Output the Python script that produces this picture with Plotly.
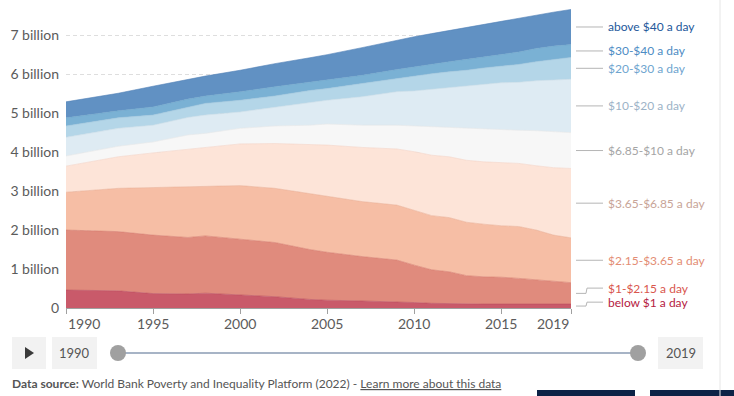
import plotly.graph_objects as go

# ---------------- data (billions of people) ----------------
years = [1990, 1993, 1995, 1997, 1998, 2000, 2002, 2004, 2005, 2007, 2009,
         2010, 2011, 2012, 2013, 2014, 2015, 2016, 2017, 2018, 2019]

below_1   = [0.46, 0.44, 0.37, 0.36, 0.38, 0.33, 0.29, 0.22, 0.20, 0.18, 0.16,
             0.14, 0.12, 0.11, 0.10, 0.10, 0.10, 0.10, 0.10, 0.10, 0.10]
d1_215    = [1.54, 1.52, 1.50, 1.45, 1.47, 1.44, 1.39, 1.28, 1.23, 1.14, 1.07,
             0.96, 0.86, 0.82, 0.73, 0.70, 0.69, 0.66, 0.62, 0.58, 0.55]
d215_365  = [0.97, 1.11, 1.22, 1.30, 1.28, 1.37, 1.39, 1.43, 1.44, 1.41, 1.41,
             1.41, 1.39, 1.39, 1.37, 1.35, 1.32, 1.33, 1.28, 1.19, 1.15]
d365_685  = [0.67, 0.81, 0.89, 0.96, 0.99, 1.07, 1.15, 1.27, 1.31, 1.39, 1.44,
             1.50, 1.55, 1.56, 1.59, 1.60, 1.62, 1.62, 1.65, 1.73, 1.78]
d685_10   = [0.26, 0.27, 0.28, 0.37, 0.36, 0.40, 0.45, 0.49, 0.54, 0.57, 0.61,
             0.66, 0.73, 0.75, 0.82, 0.84, 0.85, 0.85, 0.90, 0.92, 0.92]
d10_20    = [0.48, 0.46, 0.43, 0.45, 0.47, 0.42, 0.48, 0.59, 0.61, 0.73, 0.86,
             0.90, 0.96, 1.03, 1.08, 1.15, 1.20, 1.23, 1.28, 1.33, 1.37]
d20_30    = [0.29, 0.27, 0.26, 0.27, 0.30, 0.30, 0.29, 0.30, 0.30, 0.34, 0.34,
             0.38, 0.40, 0.40, 0.41, 0.42, 0.43, 0.46, 0.49, 0.53, 0.56]
d30_40    = [0.21, 0.18, 0.21, 0.20, 0.19, 0.22, 0.24, 0.21, 0.22, 0.21, 0.23,
             0.24, 0.25, 0.26, 0.28, 0.28, 0.30, 0.32, 0.34, 0.34, 0.33]
above_40  = [0.41, 0.45, 0.53, 0.50, 0.51, 0.55, 0.59, 0.63, 0.65, 0.71, 0.75,
             0.77, 0.78, 0.80, 0.82, 0.84, 0.85, 0.87, 0.86, 0.87, 0.90]

series_names = ["below $1 a day", "$1-$2.15 a day", "$2.15-$3.65 a day",
                "$3.65-$6.85 a day", "$6.85-$10 a day", "$10-$20 a day",
                "$20-$30 a day", "$30-$40 a day", "above $40 a day"]
series_values = [below_1, d1_215, d215_365, d365_685, d685_10,
                 d10_20, d20_30, d30_40, above_40]

fill_colors = ["#c95a6a", "#e08b7d", "#f6bea5", "#fde4d8", "#f7f7f7",
               "#deebf3", "#b4d6e8", "#7ab1d4", "#6191c3"]
edge_colors = ["#b94a5c", "#d57b6d", "#eaae95", "#f4d2c4", "#e8e8e8",
               "#cddde8", "#a3c8de", "#6aa3c9", "#5282b7"]
label_colors = ["#b5203f", "#d9564d", "#e38d74", "#c8a497", "#a5a5a5",
                "#9db3c7", "#6fa5cf", "#4d8cc4", "#23589b"]

y_tick_vals = [0, 1, 2, 3, 4, 5, 6, 7]
y_tick_text = ["0", "1 billion", "2 billion", "3 billion", "4 billion",
               "5 billion", "6 billion", "7 billion"]
x_tick_vals = [1990, 1995, 2000, 2005, 2010, 2015, 2019]

source_text = ("<b>Data source:</b> World Bank Poverty and Inequality Platform (2022) - "
               "<u>Learn more about this data</u>")

# ---------------- layout geometry ----------------
W_PX, H_PX = 734, 396
L, R, T, B = 66, 571, 4, 308
Y_MAX = 7.8
FONT = "Lato, 'Noto Sans', sans-serif"


def px(x):
    return (x - L) / (R - L)


def py(y):
    return (B - y) / (B - T)


fig = go.Figure()
for name, vals, fc, ec in zip(series_names, series_values, fill_colors, edge_colors):
    fig.add_trace(go.Scatter(
        x=years, y=vals, name=name, mode="lines", stackgroup="one",
        line=dict(width=0.6, color=ec), fillcolor=fc, showlegend=False,
        hoverinfo="skip"))

shapes = []
annotations = []

# ---------- right-side labels, positioned from the last data values ----------
cum = 0.0
mids = []
for vals in series_values:
    mids.append(cum + vals[-1] / 2.0)
    cum += vals[-1]
gap = 0.36
floor = 0.15
label_pos = []
prev = None
for m in mids:
    p = max(m, floor) if prev is None else max(m, prev + gap)
    label_pos.append(p)
    prev = p

for name, m, p, col in zip(series_names, mids, label_pos, label_colors):
    ym, yp = m / Y_MAX, p / Y_MAX
    if abs(ym - yp) < 1e-6:
        path = f"M {px(576)},{ym} L {px(603)},{ym}"
    else:
        path = (f"M {px(576)},{ym} L {px(586)},{ym} L {px(587)},{yp} "
                f"L {px(603)},{yp}")
    shapes.append(dict(type="path", path=path, xref="paper", yref="paper",
                       line=dict(color="#b5b5b5", width=1)))
    annotations.append(dict(x=px(606), y=yp, xref="paper", yref="paper",
                            text=name, showarrow=False, xanchor="left",
                            yanchor="middle",
                            font=dict(family=FONT, size=12, color=col)))

# ---------- x tick labels ----------
for yr in x_tick_vals:
    anchor = "left" if yr == x_tick_vals[0] else ("right" if yr == x_tick_vals[-1] else "center")
    annotations.append(dict(x=yr, y=py(323), xref="x", yref="paper", text=str(yr),
                            showarrow=False, xanchor=anchor, yanchor="middle",
                            font=dict(family=FONT, size=14, color="#5b5b5b")))

# ---------- timeline controls ----------
box_fill = "#f2f2f2"
shapes.append(dict(type="rect", xref="paper", yref="paper",
                   x0=px(12), x1=px(46), y0=py(369), y1=py(337),
                   fillcolor=box_fill, line=dict(width=0)))
shapes.append(dict(type="path", xref="paper", yref="paper",
                   path=f"M {px(25)},{py(347)} L {px(25)},{py(359)} L {px(34)},{py(353)} Z",
                   fillcolor="#3a3a3a", line=dict(width=0)))
shapes.append(dict(type="rect", xref="paper", yref="paper",
                   x0=px(52), x1=px(97), y0=py(369), y1=py(337),
                   fillcolor=box_fill, line=dict(width=0)))
shapes.append(dict(type="rect", xref="paper", yref="paper",
                   x0=px(658), x1=px(703), y0=py(369), y1=py(337),
                   fillcolor=box_fill, line=dict(width=0)))
shapes.append(dict(type="line", xref="paper", yref="paper",
                   x0=px(118), x1=px(638), y0=py(353), y1=py(353),
                   line=dict(color="#a7b4c6", width=2)))
for cx in (118, 638):
    shapes.append(dict(type="circle", xref="paper", yref="paper",
                       x0=px(cx - 8), x1=px(cx + 8), y0=py(361), y1=py(345),
                       fillcolor="#a0a0a0", line=dict(width=0)))
annotations.append(dict(x=px(74.5), y=py(353), xref="paper", yref="paper",
                        text=str(years[0]), showarrow=False, xanchor="center",
                        yanchor="middle", font=dict(family=FONT, size=13, color="#555")))
annotations.append(dict(x=px(680.5), y=py(353), xref="paper", yref="paper",
                        text=str(years[-1]), showarrow=False, xanchor="center",
                        yanchor="middle", font=dict(family=FONT, size=13, color="#555")))

# ---------- source line ----------
annotations.append(dict(x=px(10), y=py(383), xref="paper", yref="paper",
                        text=source_text, showarrow=False, xanchor="left",
                        yanchor="middle", font=dict(family=FONT, size=12, color="#555")))

# ---------- page chrome ----------
shapes.append(dict(type="rect", xref="paper", yref="paper",
                   x0=px(537), x1=px(635), y0=py(400), y1=py(390),
                   fillcolor="#0c2246", line=dict(width=0)))
shapes.append(dict(type="rect", xref="paper", yref="paper",
                   x0=px(650), x1=px(740), y0=py(400), y1=py(390),
                   fillcolor="#0c2246", line=dict(width=0)))
shapes.append(dict(type="line", xref="paper", yref="paper",
                   x0=px(720), x1=px(720), y0=py(0), y1=py(396),
                   line=dict(color="#e6e6e6", width=1)))

fig.update_layout(
    width=W_PX, height=H_PX,
    margin=dict(l=L, r=W_PX - R, t=T, b=H_PX - B, pad=0),
    paper_bgcolor="white", plot_bgcolor="white",
    font=dict(family=FONT, size=14, color="#5b5b5b"),
    shapes=shapes, annotations=annotations,
    xaxis=dict(range=[years[0], years[-1]], tickvals=x_tick_vals,
               showticklabels=False, ticks="outside", ticklen=5,
               tickcolor="#a0a0a0", showgrid=False, zeroline=False,
               showline=True, linecolor="#a0a0a0", linewidth=1,
               fixedrange=True),
    yaxis=dict(range=[0, Y_MAX], tickvals=y_tick_vals, ticktext=y_tick_text,
               showgrid=True, gridcolor="rgba(0,0,0,0.13)", griddash="4px,3px",
               gridwidth=1, zeroline=False, ticks="", ticklabelstandoff=6,
               tickfont=dict(family=FONT, size=14, color="#5b5b5b"),
               layer="above traces", fixedrange=True),
    hovermode=False,
)

fig.write_html(
    "out.html",
    config={"displayModeBar": False},
    post_script="document.body.style.margin='0';document.body.style.padding='0';"
                "document.documentElement.style.overflow='hidden';",
)
